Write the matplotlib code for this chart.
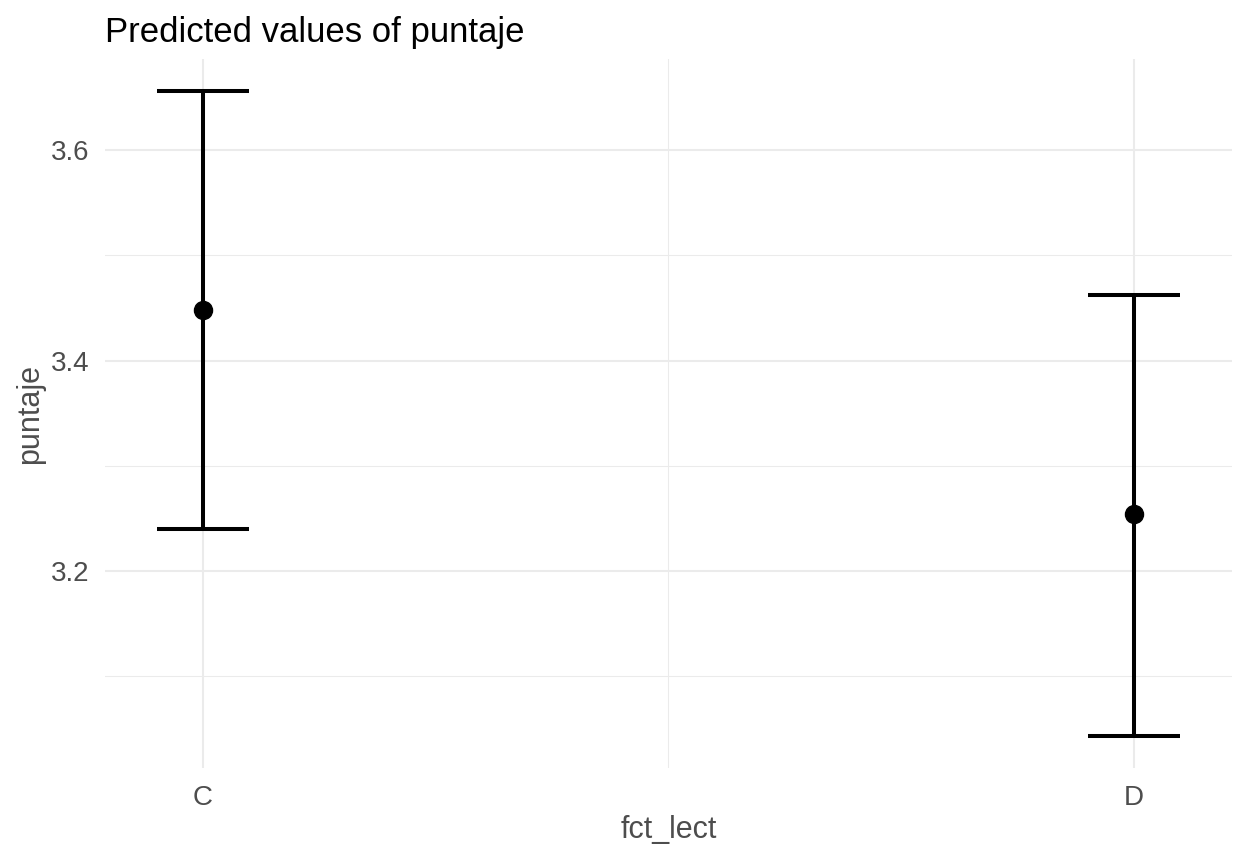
import matplotlib
matplotlib.use("Agg")
from matplotlib import pyplot as plt
from matplotlib.ticker import FixedLocator

# data
groups = ["C", "D"]
x_pos = [1, 2]
predicted = [3.448, 3.254]
conf_low = [3.240, 3.043]
conf_high = [3.656, 3.462]

plt.rcParams['font.family'] = ['Liberation Sans', 'DejaVu Sans']

fig = plt.figure(figsize=(12.36, 8.52), dpi=100)
ax = fig.add_axes([105/1236, 1-768/852, 1127/1236, 709/852])

yerr = [[p - lo for p, lo in zip(predicted, conf_low)],
        [hi - p for p, hi in zip(predicted, conf_high)]]

cap_px = 93
ax.errorbar(x_pos, predicted, yerr=yerr, fmt='o', color='black',
            ecolor='black', elinewidth=2.9, capsize=cap_px*0.72/2, capthick=2.9,
            markersize=13, zorder=3)

ax.set_xlim(0.895, 2.105)
ax.set_ylim(3.0127, 3.6868)

ax.xaxis.set_major_locator(FixedLocator(x_pos))
ax.xaxis.set_minor_locator(FixedLocator([1.5]))
ax.set_xticklabels(groups)
ax.yaxis.set_major_locator(FixedLocator([3.2, 3.4, 3.6]))
ax.yaxis.set_minor_locator(FixedLocator([3.1, 3.3, 3.5]))

ax.grid(which='major', color='#EBEBEB', linewidth=1.5)
ax.grid(which='minor', color='#EBEBEB', linewidth=0.75)
ax.set_axisbelow(True)
for s in ax.spines.values():
    s.set_visible(False)

ax.tick_params(which='both', length=0)
ax.tick_params(axis='x', pad=12, labelsize=20, labelcolor='#4D4D4D')
ax.tick_params(axis='y', pad=11, labelsize=20, labelcolor='#4D4D4D')

ax.set_xlabel("fct_lect", fontsize=22, color='#4D4D4D')
ax.xaxis.label.set_va('center')
ax.xaxis.set_label_coords(0.5, (768-830)/709)
ax.set_ylabel("puntaje", fontsize=22, color='#4D4D4D')
ax.yaxis.label.set_va('center')
ax.yaxis.set_label_coords((30-105)/1127, 0.5)

fig.text(105/1236, 1-42/852, "Predicted values of puntaje", fontsize=25,
         color='black', va='baseline', ha='left')

fig.savefig("out.png", dpi=100)
